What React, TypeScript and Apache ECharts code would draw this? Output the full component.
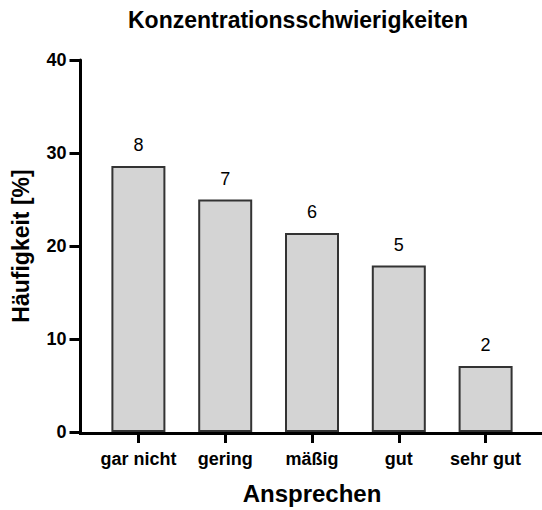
import React, { useEffect, useRef } from "react";
import * as echarts from "echarts";

const categories = ["gar nicht", "gering", "mäßig", "gut", "sehr gut"];
const percentValues = [28.6, 25.0, 21.4, 17.9, 7.1];
const counts = [8, 7, 6, 5, 2];
const yTicks = { min: 0, max: 40, interval: 10 };

const FONT = "Liberation Sans, Arial, Helvetica, sans-serif";

export default function App() {
  const ref = useRef<HTMLDivElement>(null);
  useEffect(() => {
    document.body.style.margin = "0";
    if (!ref.current) return;
    const chart = echarts.init(ref.current, undefined, { renderer: "svg" });
    chart.setOption({
      animation: false,
      backgroundColor: "#ffffff",
      textStyle: { fontFamily: FONT },
      title: {
        text: "Konzentrationsschwierigkeiten",
        left: 128,
        top: 8,
        padding: 0,
        textStyle: { fontFamily: FONT, fontWeight: "bold", fontSize: 23, color: "#000" },
      },
      grid: { left: 95, right: 13, top: 60, bottom: 76.5, containLabel: false },
      xAxis: {
        type: "category",
        data: categories,
        axisLine: { show: false },
        axisTick: { show: true, alignWithLabel: true, length: 11, lineStyle: { color: "#000", width: 3 } },
        axisLabel: { interval: 0, fontFamily: FONT, fontWeight: "bold", fontSize: 18, color: "#000", margin: 18 },
        name: "Ansprechen",
        nameLocation: "middle",
        nameGap: 49,
        nameTextStyle: { fontFamily: FONT, fontWeight: "bold", fontSize: 24, color: "#000" },
      },
      yAxis: {
        type: "value",
        min: yTicks.min,
        max: yTicks.max,
        interval: yTicks.interval,
        offset: 14.5,
        splitLine: { show: false },
        axisLine: { show: true, lineStyle: { color: "#000", width: 3 } },
        axisTick: { show: true, length: 11, lineStyle: { color: "#000", width: 3 } },
        axisLabel: { fontFamily: FONT, fontWeight: "bold", fontSize: 18, color: "#000", margin: 14 },
        name: "Häufigkeit [%]",
        nameLocation: "middle",
        nameGap: 48,
        nameTextStyle: { fontFamily: FONT, fontWeight: "bold", fontSize: 23, color: "#000" },
      },
      graphic: [
        {
          type: "line",
          shape: { x1: 79, y1: 433.5, x2: 542, y2: 433.5 },
          style: { stroke: "#000", lineWidth: 3 },
          z: 10,
        },
      ],
      series: [
        {
          type: "bar",
          data: percentValues,
          barWidth: 54,
          itemStyle: { color: "#d4d4d4", borderColor: "#333333", borderWidth: 2 },
          label: {
            show: true,
            position: "top",
            distance: 12,
            fontFamily: FONT,
            fontSize: 18,
            color: "#000",
            formatter: (p: any) => String(counts[p.dataIndex]),
          },
        },
      ],
    });
    return () => chart.dispose();
  }, []);
  return <div ref={ref} style={{ width: 542, height: 510 }} />;
}
